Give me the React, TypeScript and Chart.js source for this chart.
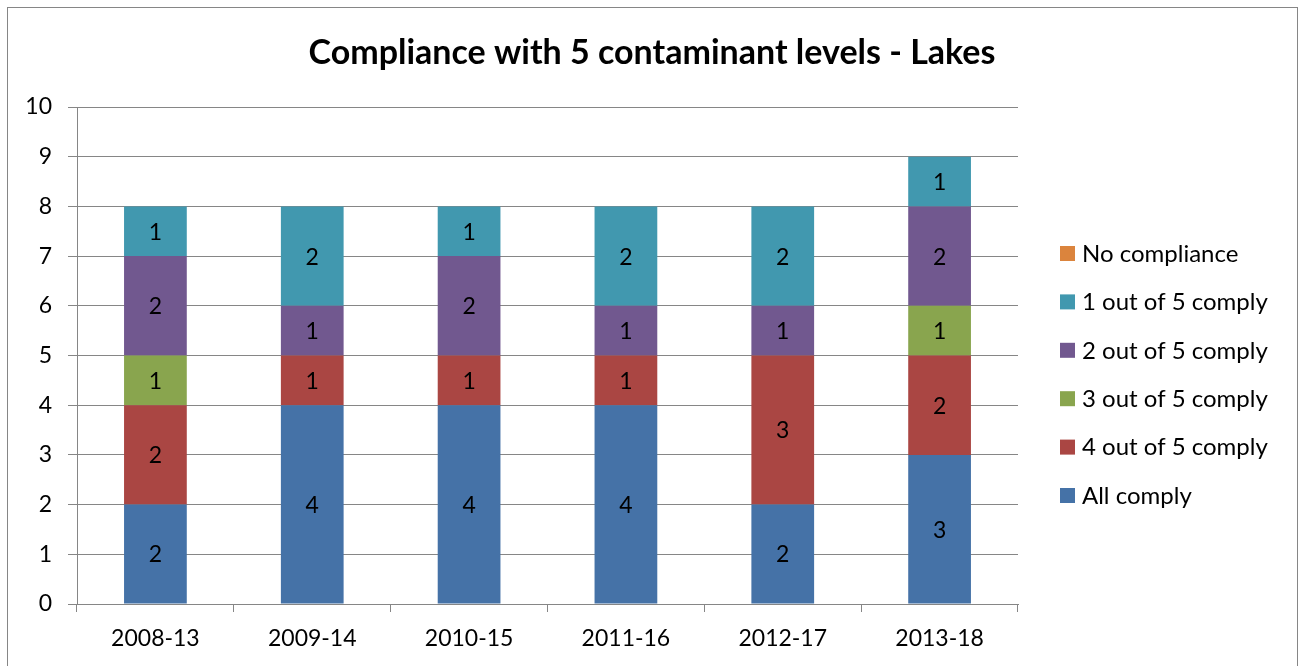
import React, { useEffect, useRef } from "react";
import { Chart, registerables } from "chart.js";

Chart.register(...registerables);

const categories = ["2008-13", "2009-14", "2010-15", "2011-16", "2012-17", "2013-18"];
const allComply = [2, 4, 4, 4, 2, 3];
const fourOfFive = [2, 1, 1, 1, 3, 2];
const threeOfFive = [1, 0, 0, 0, 0, 1];
const twoOfFive = [2, 1, 2, 1, 1, 2];
const oneOfFive = [1, 2, 1, 2, 2, 1];
const noCompliance = [0, 0, 0, 0, 0, 0];
const yTicks = [0, 1, 2, 3, 4, 5, 6, 7, 8, 9, 10];
const titleText = "Compliance with 5 contaminant levels - Lakes";

const FONT = "Lato, 'Open Sans', sans-serif";
const GRID = "#868686";

const seriesList = [
  { label: "All comply", data: allComply, color: "#4572A7" },
  { label: "4 out of 5 comply", data: fourOfFive, color: "#AA4643" },
  { label: "3 out of 5 comply", data: threeOfFive, color: "#89A54E" },
  { label: "2 out of 5 comply", data: twoOfFive, color: "#71588F" },
  { label: "1 out of 5 comply", data: oneOfFive, color: "#4198AF" },
  { label: "No compliance", data: noCompliance, color: "#DB843D" },
];

const decorPlugin = {
  id: "decor",
  beforeDraw(chart: any) {
    const ctx = chart.ctx;
    ctx.save();
    ctx.fillStyle = "#ffffff";
    ctx.fillRect(0, 0, chart.width, chart.height);
    ctx.strokeStyle = GRID;
    ctx.lineWidth = 1;
    ctx.strokeRect(7.5, 7.5, 1290, 720);
    ctx.restore();
  },
  afterDatasetsDraw(chart: any) {
    const ctx = chart.ctx;
    ctx.save();
    ctx.fillStyle = "#000000";
    ctx.font = `23px ${FONT}`;
    ctx.textAlign = "center";
    ctx.textBaseline = "middle";
    chart.data.datasets.forEach((ds: any, i: number) => {
      const meta = chart.getDatasetMeta(i);
      meta.data.forEach((el: any, j: number) => {
        const v = ds.data[j];
        if (!v) return;
        const { x, y, base } = el.getProps(["x", "y", "base"], true);
        ctx.fillText(String(v), x, (y + base) / 2 + 1);
      });
    });
    ctx.restore();
  },
  afterDraw(chart: any) {
    const ctx = chart.ctx;
    ctx.save();
    ctx.fillStyle = "#000000";
    ctx.font = `bold 34px ${FONT}`;
    ctx.textAlign = "center";
    ctx.textBaseline = "middle";
    ctx.fillText(titleText, 652, 53);
    // legend
    ctx.font = `24px ${FONT}`;
    ctx.textAlign = "left";
    const ds = chart.data.datasets;
    for (let k = 0; k < ds.length; k++) {
      const d = ds[ds.length - 1 - k];
      const cy = 253 + k * 48.4;
      ctx.fillStyle = d.backgroundColor;
      ctx.fillRect(1060, cy - 7, 15, 15);
      ctx.fillStyle = "#000000";
      ctx.fillText(d.label, 1082, cy + 1);
    }
    ctx.restore();
  },
};

export default function App() {
  const ref = useRef<HTMLCanvasElement | null>(null);
  useEffect(() => {
    if (!ref.current) return;
    const chart = new Chart(ref.current, {
      type: "bar",
      data: {
        labels: categories,
        datasets: seriesList.map((s) => ({
          label: s.label,
          data: s.data,
          backgroundColor: s.color,
          borderWidth: 0,
          barPercentage: 0.4,
          categoryPercentage: 1,
        })),
      },
      options: {
        animation: false,
        responsive: false,
        maintainAspectRatio: false,
        layout: { padding: { left: 0, top: 107, right: 283, bottom: 0 } },
        plugins: {
          legend: { display: false },
          title: { display: false },
          tooltip: { enabled: false },
        },
        scales: {
          x: {
            stacked: true,
            afterFit: (s: any) => {
              s.height = 62;
            },
            grid: {
              drawOnChartArea: false,
              offset: true,
              tickLength: 8,
              color: GRID,
            },
            border: { display: true, color: GRID },
            ticks: {
              color: "#000000",
              font: { family: FONT, size: 23 },
              padding: 13,
            },
          },
          y: {
            stacked: true,
            min: 0,
            max: 10,
            afterFit: (s: any) => {
              s.width = 77;
            },
            afterBuildTicks: (s: any) => {
              s.ticks = yTicks.map((v) => ({ value: v }));
            },
            grid: { color: GRID, tickLength: 9, drawTicks: true },
            border: { display: true, color: GRID },
            ticks: {
              color: "#000000",
              font: { family: FONT, size: 23 },
              padding: 16,
            },
          },
        },
      },
      plugins: [decorPlugin],
    });
    return () => chart.destroy();
  }, []);
  return (
    <div style={{ position: "absolute", left: 0, top: 0, width: 1301, height: 666 }}>
      <canvas ref={ref} width={1301} height={666} style={{ width: 1301, height: 666 }} />
    </div>
  );
}
